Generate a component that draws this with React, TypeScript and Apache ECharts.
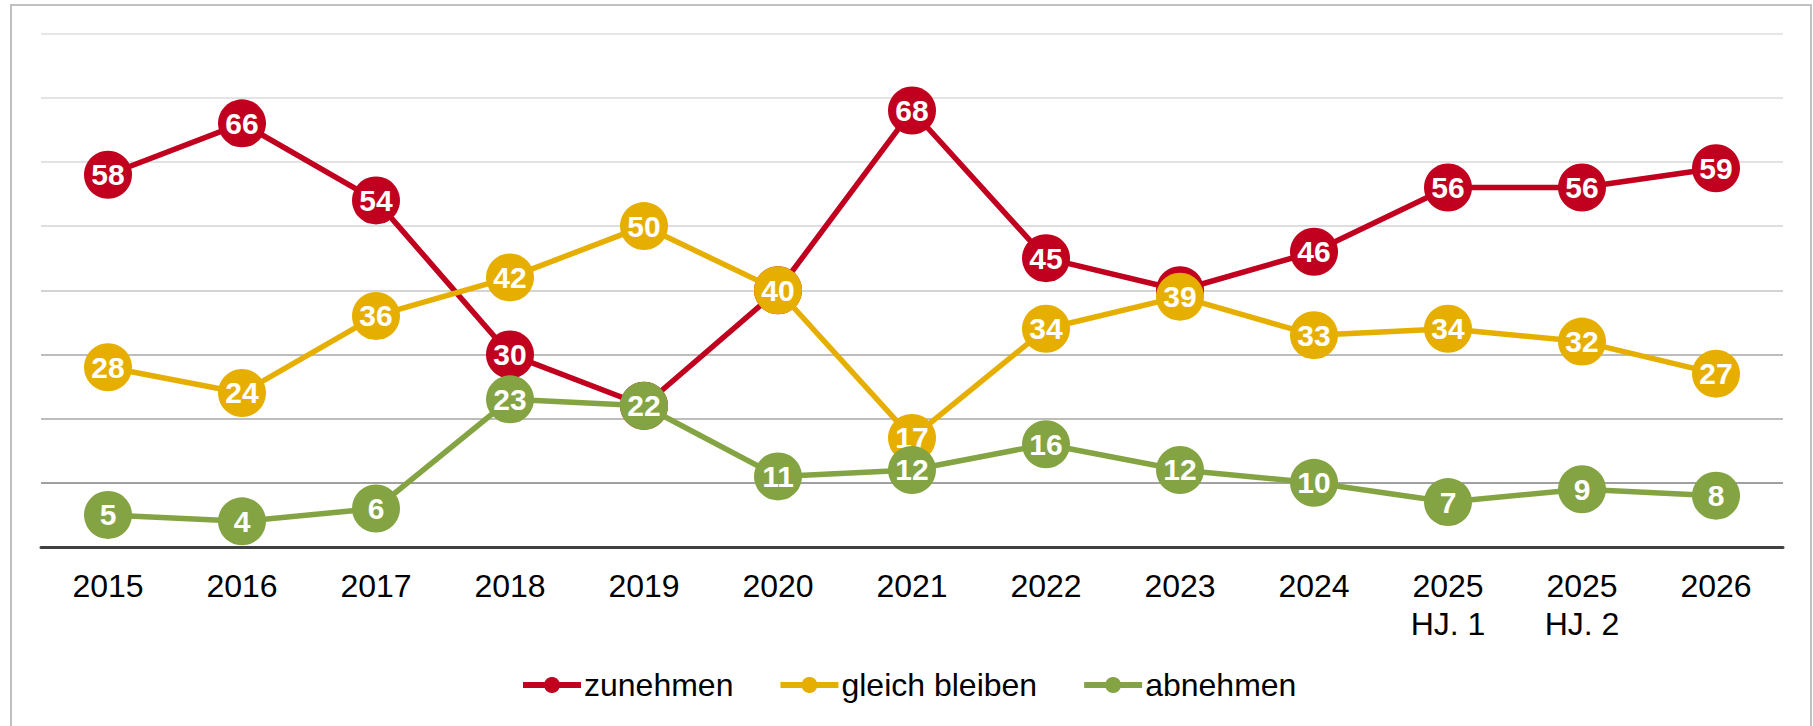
import React, { useEffect, useRef } from "react";
import * as echarts from "echarts";

const categories = ["2015", "2016", "2017", "2018", "2019", "2020", "2021", "2022", "2023", "2024", "2025\nHJ. 1", "2025\nHJ. 2", "2026"];
const zunehmen = [58, 66, 54, 30, 22, 40, 68, 45, 40, 46, 56, 56, 59];
const gleichBleiben = [28, 24, 36, 42, 50, 40, 17, 34, 39, 33, 34, 32, 27];
const abnehmen = [5, 4, 6, 23, 22, 11, 12, 16, 12, 10, 7, 9, 8];
const seriesNames = ["zunehmen", "gleich bleiben", "abnehmen"];
const colors = ["#C0001E", "#E6AF00", "#84A443"];

const FONT = "'Liberation Sans', Arial, sans-serif";

export default function App() {
  const ref = useRef<HTMLDivElement>(null);
  useEffect(() => {
    if (!ref.current) return;
    const chart = echarts.init(ref.current, null, { renderer: "svg" });
    const data = [zunehmen, gleichBleiben, abnehmen];
    chart.setOption({
      animation: false,
      backgroundColor: "#ffffff",
      textStyle: { fontFamily: FONT },
      graphic: [
        {
          type: "rect",
          shape: { x: 11, y: 5, width: 1800, height: 800 },
          style: { fill: "none", stroke: "#c0c0c0", lineWidth: 2 },
          silent: true,
        },
      ],
      legend: {
        data: seriesNames,
        top: 664,
        left: 515,
        itemWidth: 58,
        itemHeight: 20,
        itemGap: 44,
        lineStyle: { width: 6 },
        textStyle: { fontSize: 32, color: "#000", fontFamily: FONT, padding: [0, 0, 0, -2] },
      },
      grid: { left: 41, right: 30, top: 33.5, bottom: 179, containLabel: false },
      xAxis: {
        type: "category",
        data: categories,
        boundaryGap: true,
        axisLine: { show: true, lineStyle: { color: "#404040", width: 3 } },
        axisTick: { show: false },
        axisLabel: {
          color: "#000",
          fontSize: 32,
          lineHeight: 38,
          margin: 20,
          fontFamily: FONT,
          interval: 0,
        },
        splitLine: { show: false },
      },
      yAxis: {
        type: "value",
        min: 0,
        max: 80,
        interval: 10,
        axisLabel: { show: false },
        axisLine: { show: false },
        axisTick: { show: false },
        splitLine: {
          show: true,
          lineStyle: {
            width: 2,
            color: ["#404040", "#a0a0a0", "#bdbdbd", "#bdbdbd", "#d4d4d4", "#dedede", "#e2e2e2", "#e4e4e4", "#e6e6e6"],
          },
        },
      },
      series: seriesNames.map((name, i) => ({
        name,
        type: "line",
        data: data[i],
        symbol: "circle",
        symbolSize: 48,
        color: colors[i],
        lineStyle: { color: colors[i], width: 5.5 },
        itemStyle: { color: colors[i] },
        label: {
          show: true,
          position: "inside",
          color: "#ffffff",
          fontWeight: "bold",
          fontSize: 30,
          fontFamily: FONT,
        },
        z: 2 + i,
      })),
    });
    return () => chart.dispose();
  }, []);
  return (
    <div
      ref={ref}
      style={{ position: "fixed", left: 0, top: 0, width: 1813, height: 726 }}
    />
  );
}
